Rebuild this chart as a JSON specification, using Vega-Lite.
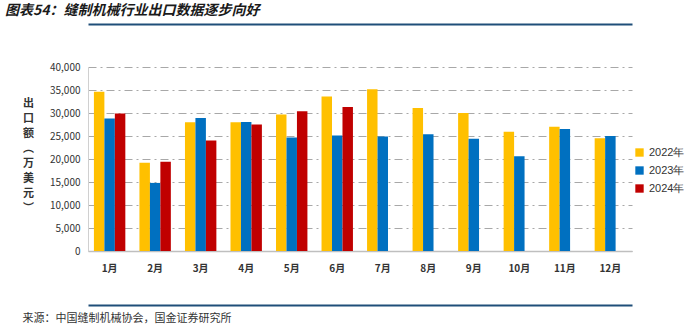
{
  "$schema": "https://vega.github.io/schema/vega-lite/v6.json",
  "width": 544,
  "height": 184,
  "autosize": {"type": "none"},
  "padding": {"left": 88, "top": 67, "right": 55, "bottom": 82},
  "background": "white",
  "title": {
    "text": "图表54：缝制机械行业出口数据逐步向好",
    "anchor": "start",
    "frame": "group",
    "dx": -83,
    "offset": 6,
    "font": "Noto Sans CJK SC",
    "fontSize": 14,
    "fontWeight": "bold",
    "fontStyle": "italic",
    "color": "#1a1a1a"
  },
  "data": {
    "values": [
      {"month": "1月", "year": "2022年", "value": 34600},
      {"month": "1月", "year": "2023年", "value": 28800},
      {"month": "1月", "year": "2024年", "value": 29900},
      {"month": "2月", "year": "2022年", "value": 19200},
      {"month": "2月", "year": "2023年", "value": 14800},
      {"month": "2月", "year": "2024年", "value": 19400},
      {"month": "3月", "year": "2022年", "value": 28000},
      {"month": "3月", "year": "2023年", "value": 28900},
      {"month": "3月", "year": "2024年", "value": 24000},
      {"month": "4月", "year": "2022年", "value": 28000},
      {"month": "4月", "year": "2023年", "value": 28050},
      {"month": "4月", "year": "2024年", "value": 27500},
      {"month": "5月", "year": "2022年", "value": 29700},
      {"month": "5月", "year": "2023年", "value": 24700},
      {"month": "5月", "year": "2024年", "value": 30400},
      {"month": "6月", "year": "2022年", "value": 33600},
      {"month": "6月", "year": "2023年", "value": 25100},
      {"month": "6月", "year": "2024年", "value": 31300},
      {"month": "7月", "year": "2022年", "value": 35150},
      {"month": "7月", "year": "2023年", "value": 24900},
      {"month": "8月", "year": "2022年", "value": 31100},
      {"month": "8月", "year": "2023年", "value": 25400},
      {"month": "9月", "year": "2022年", "value": 30000},
      {"month": "9月", "year": "2023年", "value": 24400},
      {"month": "10月", "year": "2022年", "value": 25950},
      {"month": "10月", "year": "2023年", "value": 20600},
      {"month": "11月", "year": "2022年", "value": 27000},
      {"month": "11月", "year": "2023年", "value": 26500},
      {"month": "12月", "year": "2022年", "value": 24500},
      {"month": "12月", "year": "2023年", "value": 25000}
    ]
  },
  "config": {
    "font": "Noto Sans CJK SC",
    "view": {"stroke": null}
  },
  "resolve": {"axis": {"x": "independent"}},
  "layer": [
    {
      "mark": {"type": "bar"},
      "encoding": {
        "x": {
          "field": "month",
          "type": "ordinal",
          "sort": ["1月","2月","3月","4月","5月","6月","7月","8月","9月","10月","11月","12月"],
          "scale": {"paddingInner": 0.31, "paddingOuter": 0.13},
          "axis": {
            "title": null,
            "labelAngle": 0,
            "labelFontSize": 10,
            "labelFontWeight": "bold",
            "labelColor": "#333333",
            "labelPadding": 12,
            "ticks": false,
            "domainColor": "#bfbfbf",
            "domainWidth": 1.5,
            "grid": false
          }
        },
        "xOffset": {
          "field": "year",
          "type": "nominal",
          "scale": {"domain": ["2022年", "2023年", "2024年"], "paddingInner": 0, "paddingOuter": 0}
        },
        "y": {
          "field": "value",
          "type": "quantitative",
          "scale": {"domain": [0, 40000]},
          "axis": {
            "values": [0,5000,10000,15000,20000,25000,30000,35000,40000],
            "format": ",.0f",
            "labelFontSize": 10,
            "labelColor": "#333333",
            "labelPadding": 8,
            "ticks": false,
            "domainColor": "#d0d0d0",
            "grid": true,
            "gridColor": "#a8a8a8",
            "gridWidth": 1,
            "gridOpacity": 1,
            "gridDash": [8, 4, 2, 4],
            "title": ["出", "口", "额", "︵", "万", "美", "元", "︶"],
            "titleAngle": 0,
            "titleX": -60,
            "titleY": 30,
            "titleAlign": "center",
            "titleBaseline": "top",
            "titleLineHeight": 15,
            "titleFontSize": 11,
            "titleFontWeight": "bold",
            "titleColor": "#333333"
          }
        },
        "color": {
          "field": "year",
          "type": "nominal",
          "scale": {"domain": ["2022年", "2023年", "2024年"], "range": ["#FFC000", "#0070C0", "#C00000"]},
          "legend": {
            "title": null,
            "orient": "none",
            "legendX": 546,
            "legendY": 80,
            "symbolType": "square",
            "symbolSize": 70,
            "symbolStrokeWidth": 0,
            "labelFontSize": 11,
            "labelColor": "#333333",
            "labelFont": "Liberation Sans",
            "rowPadding": 6
          }
        }
      }
    },
    {
      "mark": {"type": "tick", "opacity": 0},
      "encoding": {
        "x": {
          "field": "month",
          "type": "ordinal",
          "sort": ["1月","2月","3月","4月","5月","6月","7月","8月","9月","10月","11月","12月"],
          "axis": {
            "orient": "top",
            "offset": 43,
            "labels": false,
            "ticks": false,
            "grid": false,
            "title": null,
            "domainColor": "#1F4E79",
            "domainWidth": 2
          }
        }
      }
    },
    {
      "mark": {"type": "tick", "opacity": 0},
      "encoding": {
        "x": {
          "field": "month",
          "type": "ordinal",
          "sort": ["1月","2月","3月","4月","5月","6月","7月","8月","9月","10月","11月","12月"],
          "axis": {
            "orient": "bottom",
            "offset": 54,
            "labels": false,
            "ticks": false,
            "grid": false,
            "domainColor": "#1F4E79",
            "domainWidth": 2,
            "title": "来源：中国缝制机械协会，国金证券研究所",
            "titleX": -66,
            "titleY": 13,
            "titleAlign": "left",
            "titleBaseline": "middle",
            "titleFontSize": 11,
            "titleFontWeight": "normal",
            "titleColor": "#333333"
          }
        }
      }
    }
  ]
}
